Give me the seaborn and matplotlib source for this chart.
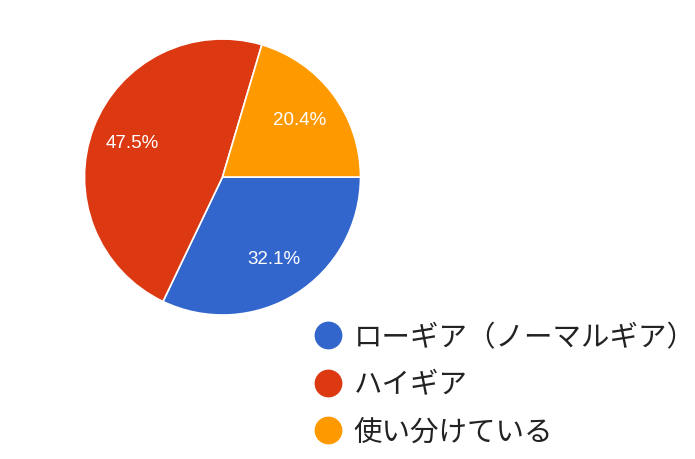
import matplotlib
matplotlib.use("Agg")
import matplotlib.pyplot as plt
from matplotlib.lines import Line2D
import seaborn as sns

categories = ["ローギア（ノーマルギア）", "ハイギア", "使い分けている"]
values = [32.1, 47.5, 20.4]
colors = ["#3366CC", "#DC3912", "#FF9900"]

sns.set_theme(style="white")
plt.rcParams['font.family'] = ['Noto Sans CJK JP', 'DejaVu Sans']

fig = plt.figure(figsize=(6.95, 4.6), dpi=100)
# pie axes: center (222.5,178), radius 138 px
r = 138
cx, cy = 222.5, 178
ax = fig.add_axes([(cx - r) / 695, 1 - (cy + r) / 460, 2 * r / 695, 2 * r / 460])
wedges, texts, autotexts = ax.pie(
    values, colors=colors, startangle=0, counterclock=False,
    autopct="%1.1f%%", pctdistance=0.7,
    wedgeprops=dict(edgecolor="white", linewidth=1.2),
    textprops=dict(color="white", fontsize=13.5, family=['Liberation Sans', 'DejaVu Sans']),
    radius=1.0,
)
ax.set_xlim(-1, 1)
ax.set_ylim(-1, 1)
ax.set_aspect("equal")

handles = [Line2D([0], [0], marker="o", linestyle="", markersize=19,
                  markerfacecolor=c, markeredgecolor=c) for c in colors]
fig.legend(handles, categories, loc="upper left",
           bbox_to_anchor=(298 / 695, 1 - 312 / 460),
           frameon=False, fontsize=20.5, handletextpad=0.25,
           labelspacing=0.6, borderaxespad=0, handlelength=1.3,
           labelcolor="#222222")

fig.savefig("out.png", dpi=100, facecolor="white")
